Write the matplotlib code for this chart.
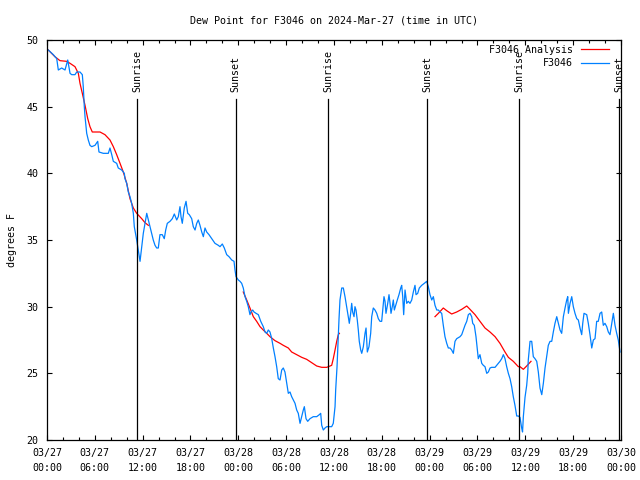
import datetime as dt
import numpy as np
import matplotlib
matplotlib.use("Agg")
import matplotlib.pyplot as plt
import matplotlib.dates as mdates

# ---------------- data ----------------
BASE = dt.datetime(2024, 3, 27, 0, 0)

# observed dew point (hours since 03/27 00:00 UTC, degrees F)
obs_hours = [0.16, 0.79, 1.22, 1.42, 1.84, 2.26, 2.60, 2.89, 3.10, 3.51, 3.73, 4.14, 4.43, 4.55, 4.68, 4.77,
             4.98, 5.18, 5.39, 5.61, 6.02, 6.36, 6.52, 7.06, 7.69, 7.90, 8.12, 8.32, 8.74, 8.94, 9.37, 9.70,
             9.78, 10.0, 10.2, 10.41, 10.62, 10.83, 10.95, 11.25, 11.45, 11.67, 11.88, 12.08, 12.29, 12.51,
             12.71, 12.92, 13.13, 13.33, 13.55, 13.76, 13.96, 14.17, 14.46, 14.71, 14.89, 15.09, 15.43, 15.72,
             15.97, 16.27, 16.47, 16.68, 16.81, 16.97, 17.22, 17.44, 17.65, 17.85, 18.15, 18.35, 18.57, 18.78,
             18.98, 19.19, 19.41, 19.61, 19.82, 20.03, 20.32, 20.66, 21.07, 21.49, 21.70, 21.99, 22.24, 22.54,
             22.83, 23.17, 23.46, 23.58, 23.71, 24.0, 24.21, 24.42, 24.62, 24.84, 25.05, 25.25, 25.46, 25.59,
             25.80, 25.97, 26.22, 26.51, 26.81, 27.13, 27.35, 27.56, 27.76, 27.97, 28.19, 28.39, 28.60, 28.81,
             29.01, 29.23, 29.44, 29.64, 29.85, 30.07, 30.27, 30.48, 30.69, 30.9, 31.11, 31.32, 31.52, 31.74,
             31.95, 32.15, 32.28, 32.49, 32.70, 32.99, 33.4, 33.83, 34.16, 34.33, 34.46, 34.66, 34.87, 35.09,
             35.5, 35.71, 35.91, 36.13, 36.21, 36.38, 36.54, 36.63, 36.75, 36.97, 37.17, 37.38, 37.59, 37.79,
             37.92, 38.09, 38.22, 38.34, 38.51, 38.63, 38.76, 38.92, 39.05, 39.17, 39.35, 39.48, 39.68, 39.89,
             40.02, 40.18, 40.39, 40.6, 40.73, 40.93, 41.14, 41.36, 41.56, 41.77, 41.98, 42.11, 42.27, 42.4,
             42.52, 42.74, 42.9, 43.03, 43.15, 43.31, 43.44, 43.57, 43.74, 43.94, 44.15, 44.37, 44.49, 44.62,
             44.74, 44.91, 45.12, 45.32, 45.53, 45.75, 45.95, 46.16, 46.29, 46.5, 46.7, 47.0, 47.33, 47.63,
             47.83, 48.04, 48.26, 48.46, 48.67, 48.89, 49.09, 49.3, 49.51, 49.71, 49.92, 50.14, 50.34, 50.55,
             50.76, 50.97, 51.18, 51.39, 51.81, 52.02, 52.22, 52.43, 52.65, 52.85, 53.06, 53.27, 53.40, 53.6,
             53.81, 53.98, 54.1, 54.31, 54.53, 54.73, 54.94, 55.16, 55.36, 55.57, 55.78, 56.2, 56.41, 56.82,
             57.04, 57.24, 57.45, 57.66, 57.87, 58.08, 58.29, 58.49, 58.7, 58.92, 59.12, 59.33, 59.54, 59.65,
             59.75, 59.96, 60.17, 60.3, 60.37, 60.59, 60.8, 61.0, 61.21, 61.43, 61.63, 61.84, 62.06, 62.26,
             62.47, 62.68, 62.88, 63.1, 63.31, 63.51, 63.72, 63.94, 64.14, 64.35, 64.56, 64.77, 64.98, 65.19,
             65.32, 65.4, 65.61, 65.82, 66.02, 66.23, 66.45, 66.65, 66.86, 67.07, 67.2, 67.36, 67.7, 67.9,
             68.11, 68.33, 68.53, 68.74, 68.95, 69.15, 69.37, 69.58, 69.78, 69.99, 70.21, 70.41, 70.62, 70.84,
             71.04, 71.25, 71.46, 71.66, 71.88]
obs_dewpt = [49.25, 48.9, 48.6, 47.75, 47.9, 47.75, 48.5, 47.5, 47.4, 47.4, 47.6, 47.6, 47.4, 46.5, 45.0, 44.25,
             43.0, 42.5, 42.1, 42.0, 42.1, 42.4, 41.6, 41.5, 41.5, 41.9, 41.4, 40.9, 40.75, 40.4, 40.25, 40.0,
             39.6, 39.25, 38.6, 38.25, 37.75, 37.0, 36.0, 35.0, 34.25, 33.4, 34.5, 35.5, 36.25, 37.0,
             36.5, 36.0, 35.5, 35.0, 34.6, 34.4, 34.4, 35.4, 35.4, 35.1, 35.75, 36.25, 36.4, 36.6,
             36.95, 36.5, 36.75, 37.5, 36.75, 36.25, 37.4, 37.9, 37.0, 36.9, 36.6, 36.0, 35.75, 36.25,
             36.5, 36.1, 35.6, 35.25, 35.9, 35.6, 35.4, 35.1, 34.75, 34.6, 34.5, 34.7, 34.4, 33.9,
             33.75, 33.5, 33.4, 32.75, 32.25, 32.0, 31.9, 31.75, 31.4, 30.75, 30.4, 30.0, 29.4, 29.6,
             29.75, 29.6, 29.5, 29.4, 28.9, 28.5, 28.1, 28.0, 28.25, 28.1, 27.6, 26.9, 26.25, 25.5,
             24.6, 24.5, 25.25, 25.4, 25.1, 24.25, 23.5, 23.6, 23.25, 23.0, 22.75, 22.25, 22.0, 21.25,
             21.75, 22.25, 22.5, 21.6, 21.4, 21.6, 21.75, 21.75, 21.9, 22.0, 21.1, 20.75, 20.9, 21.0,
             21.0, 21.0, 21.25, 22.5, 23.75, 25.5, 27.75, 29.1, 30.5, 31.4, 31.4, 30.75, 30.0, 29.25,
             28.75, 29.5, 30.25, 29.6, 29.25, 30.0, 29.75, 29.0, 28.25, 27.4, 26.75, 26.5, 27.0, 28.0,
             28.4, 26.6, 27.0, 28.0, 29.25, 29.9, 29.75, 29.5, 29.1, 28.9, 28.9, 29.75, 30.75, 30.4,
             29.5, 30.25, 30.9, 30.25, 29.5, 30.0, 30.5, 29.75, 30.1, 30.5, 30.9, 31.4, 31.6, 30.75,
             29.4, 31.25, 30.25, 30.4, 30.25, 30.5, 31.1, 31.6, 30.9, 31.0, 31.4, 31.6, 31.75, 31.9,
             31.5, 30.9, 30.5, 30.75, 30.1, 29.75, 29.75, 29.6, 29.5, 28.6, 27.75, 27.25, 26.9, 26.9,
             26.75, 26.5, 27.4, 27.6, 27.75, 27.9, 28.25, 28.6, 28.9, 29.4, 29.5, 29.25, 28.75, 28.6,
             27.75, 26.75, 26.1, 26.4, 25.75, 25.6, 25.5, 25.0, 25.1, 25.4, 25.45, 25.45, 25.6, 25.9,
             26.1, 26.4, 26.1, 25.5, 25.0, 24.6, 24.0, 23.25, 22.6, 21.8, 21.8, 21.7, 20.9, 20.6,
             21.75, 23.2, 24.1, 25.0, 26.0, 27.4, 27.4, 26.25, 26.1, 25.9, 25.1, 23.9, 23.4, 24.25,
             25.4, 26.25, 27.1, 27.4, 27.4, 28.1, 28.75, 29.25, 28.75, 28.25, 28.0, 29.25, 29.9, 30.5,
             30.75, 29.5, 30.25, 30.75, 30.0, 29.5, 29.1, 29.0, 28.4, 27.9, 28.75, 29.5, 29.4, 28.75,
             27.9, 26.9, 27.5, 27.6, 28.9, 28.9, 29.5, 29.6, 28.6, 28.75, 28.5, 28.1, 27.9, 28.75,
             29.5, 28.6, 28.0, 27.5, 26.6]

# analysis (three separate segments)
anl1_hours = [0.16, 0.99, 1.63, 2.47, 2.89, 3.51, 3.93, 4.14, 4.43, 4.77, 5.11, 5.39, 5.68, 6.65, 7.27, 7.9,
              8.32, 8.74, 9.16, 9.57, 10.0, 10.41, 10.83, 11.25, 11.88, 12.29, 12.71]
anl1_dewpt = [49.25, 48.75, 48.45, 48.4, 48.25, 48.0, 47.5, 46.75, 46.0, 45.1, 44.1, 43.5, 43.1, 43.1, 42.9, 42.5,
              42.0, 41.4, 40.75, 40.1, 39.25, 38.1, 37.4, 37.0, 36.6, 36.3, 36.1]
anl2_hours = [24.62, 25.05, 25.46, 25.88, 26.3, 26.72, 27.13, 27.56, 27.97, 28.6, 29.23, 29.64, 30.27, 30.69,
              31.32, 31.95, 32.57, 33.2, 33.83, 34.46, 35.09, 35.5, 35.71, 35.91, 36.13, 36.34, 36.54, 36.67]
anl2_dewpt = [31.1, 30.5, 29.9, 29.25, 28.9, 28.5, 28.25, 28.0, 27.75, 27.45, 27.25, 27.1, 26.9, 26.6,
              26.4, 26.2, 26.05, 25.8, 25.55, 25.45, 25.45, 25.55, 25.6, 26.1, 26.75, 27.4, 27.9, 28.0]
anl3_hours = [48.67, 49.09, 49.71, 50.14, 50.76, 51.39, 52.02, 52.65, 53.06, 53.69, 54.31, 54.94, 55.57, 56.2,
              56.82, 57.45, 57.87, 58.49, 59.12, 59.33, 59.75, 60.17, 60.71]
anl3_dewpt = [29.25, 29.5, 29.9, 29.7, 29.45, 29.6, 29.8, 30.05, 29.8, 29.4, 28.9, 28.4, 28.1, 27.75,
              27.25, 26.6, 26.2, 25.9, 25.5, 25.5, 25.3, 25.55, 25.9]

# sun events (hours since 03/27 00:00 UTC)
sun_hours = [11.33, 23.67, 35.29, 47.70, 59.24, 71.80]
sun_labels = ["Sunrise", "Sunset", "Sunrise", "Sunset", "Sunrise", "Sunset"]

yticks = [20, 25, 30, 35, 40, 45, 50]


def to_dt(hours):
    return [BASE + dt.timedelta(hours=h) for h in hours]


# ---------------- plot ----------------
FONT = "DejaVu Sans Mono"
plt.rcParams["font.family"] = FONT
plt.rcParams["font.size"] = 7.2

fig = plt.figure(figsize=(6.4, 4.8), dpi=100)
ax = fig.add_axes([47 / 640, 40 / 480, (621 - 47) / 640, 400 / 480])

RED = "#ff0000"
BLUE = "#0080ff"

ax.plot(to_dt(anl1_hours), anl1_dewpt, color=RED, lw=0.9, label="F3046 Analysis")
ax.plot(to_dt(anl2_hours), anl2_dewpt, color=RED, lw=0.9)
ax.plot(to_dt(anl3_hours), anl3_dewpt, color=RED, lw=0.9)
ax.plot(to_dt(obs_hours), obs_dewpt, color=BLUE, lw=0.9, label="F3046")

for h, lab in zip(sun_hours, sun_labels):
    t = to_dt([h])[0]
    ax.plot([t, t], [20, 45.6], color="black", lw=0.9)
    ax.text(t, 46.1, lab, rotation=90, ha="center", va="bottom", fontsize=7.2)

ax.set_xlim(BASE, BASE + dt.timedelta(hours=72))
ax.set_ylim(20, 50)
ax.set_yticks(yticks)

ax.xaxis.set_major_locator(mdates.HourLocator(byhour=range(0, 24, 6)))
ax.xaxis.set_minor_locator(mdates.HourLocator(byhour=range(0, 24, 2)))
ax.xaxis.set_major_formatter(mdates.DateFormatter("%m/%d\n%H:%M"))

ax.tick_params(axis="both", which="both", direction="in", top=True, right=True,
               width=0.8, labelsize=7.2)
ax.tick_params(axis="both", which="major", length=3.6)
ax.tick_params(axis="x", which="major", pad=6)
ax.tick_params(axis="y", which="major", pad=6)
ax.tick_params(axis="both", which="minor", length=2.2)
for lbl in ax.get_xticklabels():
    lbl.set_linespacing(1.55)
for s in ax.spines.values():
    s.set_linewidth(0.9)

ax.set_title("Dew Point for F3046 on 2024-Mar-27 (time in UTC)", fontsize=7.2, pad=12)
ax.set_ylabel("degrees F", fontsize=7.2, labelpad=7)

leg = ax.legend(loc="upper right", bbox_to_anchor=(1 - 12 / 574, 1 - 5 / 400),
                frameon=False, markerfirst=False, fontsize=7.2,
                handlelength=2.8, handletextpad=0.8, labelspacing=0.35,
                borderaxespad=0.0, borderpad=0.0)
for t in leg.get_texts():
    t.set_ha("right")

fig.savefig("out.png", dpi=100)
